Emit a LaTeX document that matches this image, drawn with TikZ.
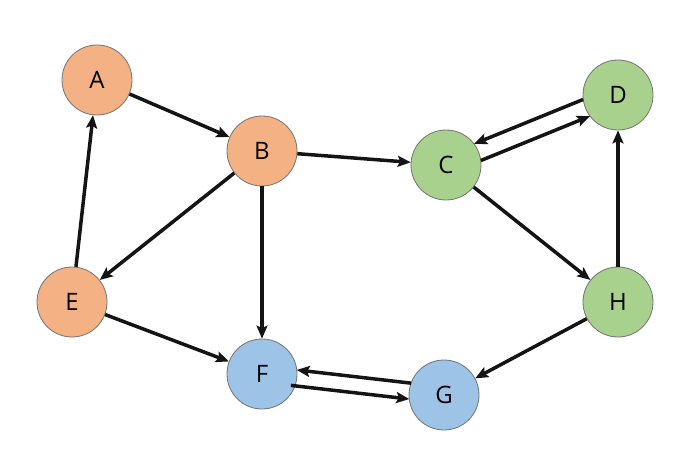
\documentclass[tikz,border=0pt]{standalone}
\usepackage{fontspec}
\setmainfont{Open Sans}
\usetikzlibrary{arrows.meta,calc}
\definecolor{orng}{HTML}{F4B183}
\definecolor{grn}{HTML}{A9D18E}
\definecolor{blu}{HTML}{9DC3E6}
\definecolor{edg}{HTML}{141414}
\begin{document}
\begin{tikzpicture}[x=1pt,y=-1pt,
  vert/.style={circle,draw=black!55,line width=0.8pt,minimum size=70pt,inner sep=0pt,font=\fontsize{24}{28}\selectfont},
  arr/.style={draw=edg,line width=3.5pt,-{Stealth[length=13pt,width=11pt,inset=2.5pt]}}]
\useasboundingbox (0,0) rectangle (695,465);
\node[vert,fill=orng] (A) at (97,80) {A};
\node[vert,fill=orng] (B) at (262,151) {B};
\node[vert,fill=grn] (C) at (446,165) {C};
\node[vert,fill=grn] (D) at (618,95) {D};
\node[vert,fill=orng] (E) at (72,302) {E};
\node[vert,fill=blu] (F) at (262,374) {F};
\node[vert,fill=blu] (G) at (444,395) {G};
\node[vert,fill=grn] (H) at (618,302) {H};
\draw[arr] (A) -- (B);
\draw[arr] (B) -- (C);
\draw[arr] (B) -- (E);
\draw[arr] (B) -- (F);
\draw[arr] (E) -- (A);
\draw[arr] (E) -- (F);
\draw[arr] (C) -- (H);
\draw[arr] (H) -- (D);
\draw[arr] (H) -- (G);
\coordinate (cd1) at ($(C)!9pt!-90:(D)$);
\coordinate (cd2) at ($(D)!9pt!90:(C)$);
\coordinate (dc1) at ($(D)!9pt!-90:(C)$);
\coordinate (dc2) at ($(C)!9pt!90:(D)$);
\draw[arr,shorten <=34pt,shorten >=34pt] (cd1) -- (cd2);
\draw[arr,shorten <=34pt,shorten >=34pt] (dc1) -- (dc2);
\coordinate (fg1) at ($(F)!8pt!-90:(G)$);
\coordinate (fg2) at ($(G)!8pt!90:(F)$);
\coordinate (gf1) at ($(G)!8pt!-90:(F)$);
\coordinate (gf2) at ($(F)!8pt!90:(G)$);
\draw[arr,shorten <=30pt,shorten >=34pt] (fg1) -- (fg2);
\draw[arr,shorten <=34pt,shorten >=34pt] (gf1) -- (gf2);
\end{tikzpicture}
\end{document}
